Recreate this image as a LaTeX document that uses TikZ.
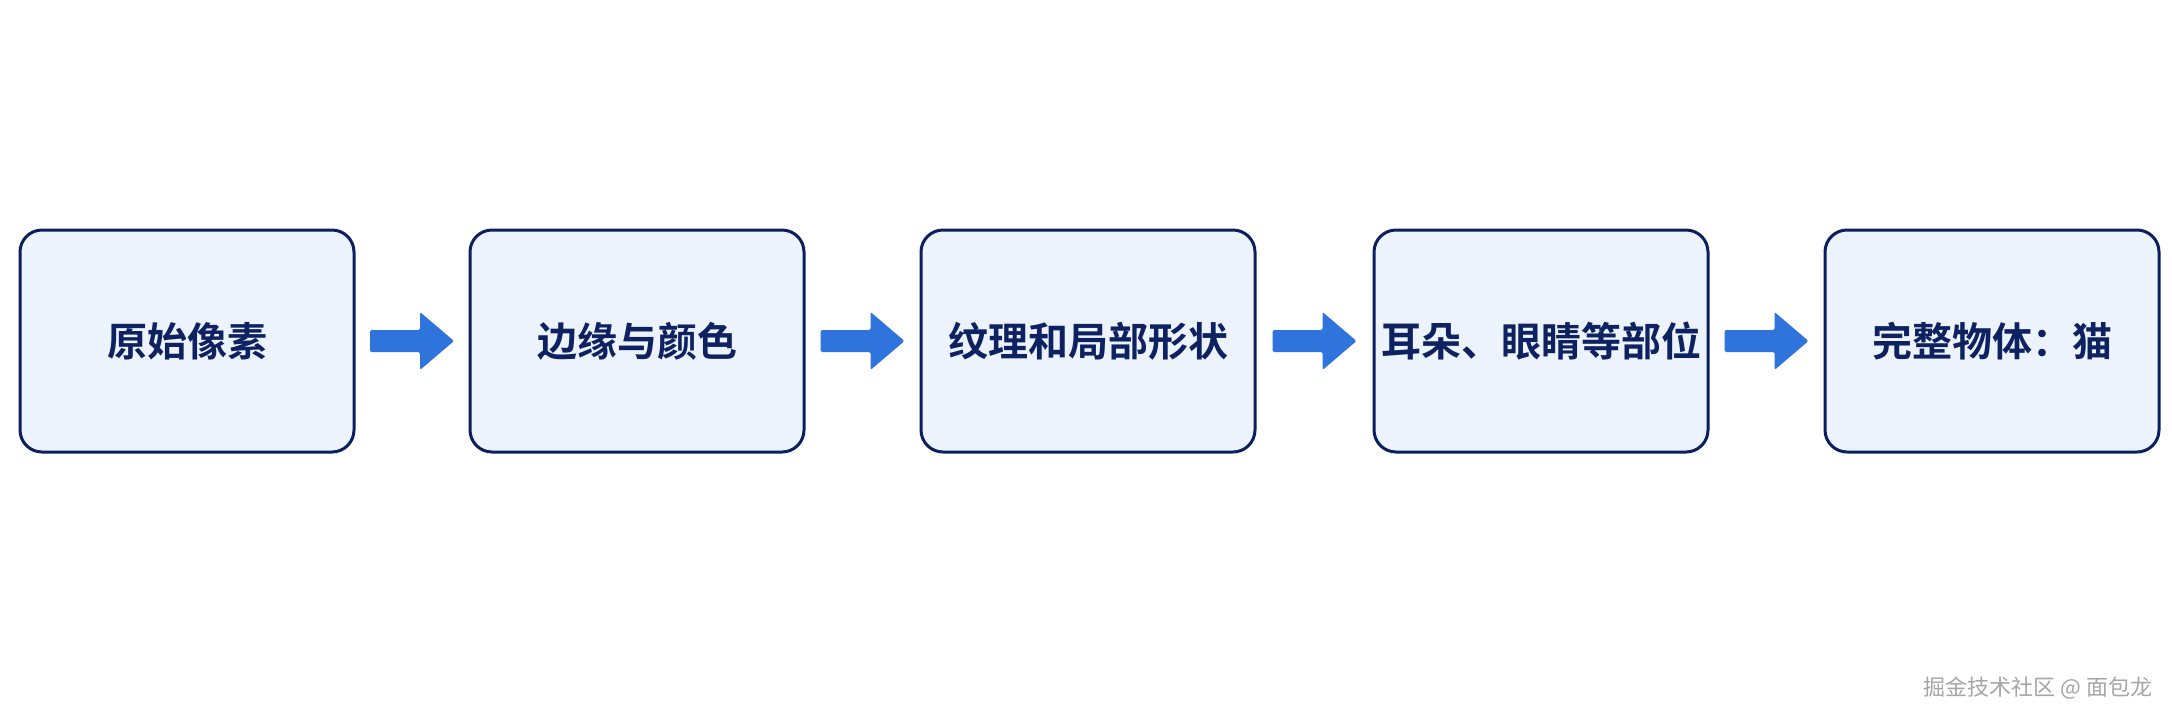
\documentclass[tikz,border=0pt]{standalone}
\usepackage{fontspec}
\newfontfamily\cjk{Noto Sans CJK SC}
\newfontfamily\cjkb{Noto Sans CJK SC Bold}
\definecolor{bd}{HTML}{0B1F5E}
\definecolor{fl}{HTML}{ECF3FD}
\definecolor{ar}{HTML}{2F74DC}
\definecolor{tx}{HTML}{0E2160}
\begin{document}
\begin{tikzpicture}[x=1pt,y=-1pt,
  box/.style={draw=bd,line width=3pt,fill=fl,rounded corners=22pt,minimum width=334pt,minimum height=222pt,inner sep=0pt,font=\cjkb\fontsize{40}{48}\selectfont,text=tx},
  arr/.style={fill=ar,draw=none}]
\useasboundingbox[fill=white] (0,0) rectangle (2172,724);
\node[box] (b1) at (187,341) {原始像素};
\node[box] (b2) at (637,341) {边缘与颜色};
\node[box] (b3) at (1088,341) {纹理和局部形状};
\node[box] (b4) at (1541,341) {耳朵、眼睛等部位};
\node[box] (b5) at (1992,341) {完整物体：猫};
\foreach \a/\b in {b1/b2,b2/b3,b3/b4,b4/b5}{
  \path (\a.east) -- (\b.west) coordinate[pos=0.5] (m\a);
  \fill[ar,rounded corners=1.5pt] ([xshift=-42pt,yshift=-11pt]m\a) -- ([xshift=8pt,yshift=-11pt]m\a) -- ([xshift=8pt,yshift=-29pt]m\a) -- ([xshift=42pt]m\a) -- ([xshift=8pt,yshift=29pt]m\a) -- ([xshift=8pt,yshift=11pt]m\a) -- ([xshift=-42pt,yshift=11pt]m\a) -- cycle;
}
\node[font=\cjk\fontsize{22}{26}\selectfont,text=gray!70,anchor=east] (wm) at (2156,688) {掘金技术社区 @ 面包龙};
\end{tikzpicture}
\end{document}
